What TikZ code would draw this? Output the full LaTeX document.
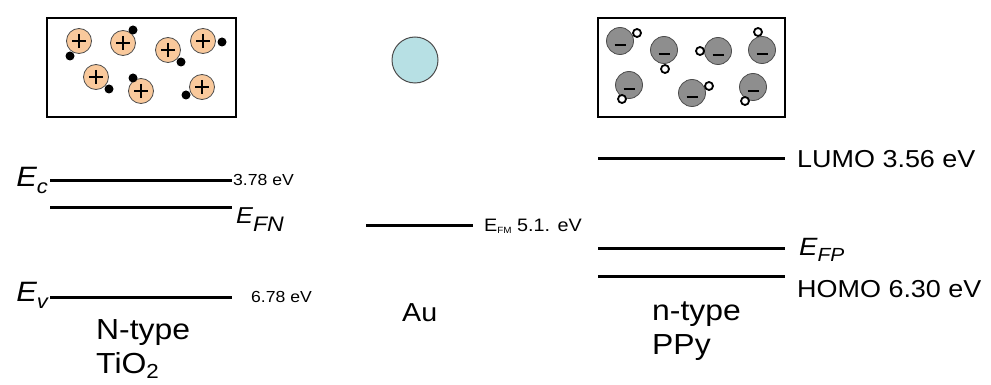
\documentclass[tikz,border=0pt]{standalone}
\usepackage{fontspec}
\setmainfont[FakeStretch=1.1]{Liberation Sans}
\usetikzlibrary{positioning}
\definecolor{holefill}{HTML}{F9C99C}
\definecolor{anionfill}{HTML}{8E8E8E}
\definecolor{goldfill}{HTML}{B7E0E4}
% italic E with a lowered subscript: size of E, size of subscript, drop, subscript
\newcommand{\Esub}[4]{{\itshape\fontsize{#1}{#1}\selectfont E\raisebox{-#3}{\fontsize{#2}{#2}\selectfont #4}}}
\tikzstyle{band} = [line width=3pt]
\tikzstyle{sample} = [draw, line width=2.8pt]
\tikzstyle{cation} = [circle, draw=black!70, line width=0.8pt, fill=holefill, minimum size=25pt, inner sep=0pt]
\tikzstyle{anion} = [circle, draw=black!70, line width=0.8pt, fill=anionfill, minimum size=27pt, inner sep=0pt]
\tikzstyle{electron} = [circle, fill=black, minimum size=9pt, inner sep=0pt]
\tikzstyle{hole} = [circle, draw, line width=1.8pt, fill=white, minimum size=8pt, inner sep=0pt]
\tikzstyle{energy} = [inner sep=0pt, font=\fontsize{16pt}{16pt}\selectfont]
\tikzstyle{material} = [inner sep=0pt, align=left, font=\fontsize{29pt}{34pt}\selectfont]
\tikzstyle{orbital} = [inner sep=0pt, font=\fontsize{24.5pt}{24.5pt}\selectfont]

\begin{document}
\begin{tikzpicture}[x=1pt, y=-1pt]
    \useasboundingbox (0, 0) rectangle (991, 385);

    % Samples.
    \draw [sample] (47, 18) rectangle (236, 117);
    \draw [sample] (598, 18) rectangle (785, 117);
    \node (au) [circle, draw=black!70, line width=1pt, fill=goldfill, minimum size=46pt, inner sep=0pt] at (415, 60) {};

    % Holes in TiO2.
    \foreach \cx/\cy/\dx/\dy [count=\n] in {79/41/70/56, 123/43/133/30, 168/50/181/62, 203/41/222/42,
                                            96/77/109/89, 141/91/133/78, 202/87/186/95} {
        \node (ion\n) [cation] at (\cx, \cy) {};
        \draw [line width=2.2pt] (\cx - 7, \cy) -- (\cx + 7, \cy);
        \draw [line width=2.2pt] (\cx, \cy - 7) -- (\cx, \cy + 7);
        \node (el\n) [electron] at (\dx, \dy) {};
    }

    % Charges in PPy.
    \foreach \cx/\cy/\dx/\dy [count=\n] in {620/41/637/33, 664/50/665/69, 718/51/700/51, 762/50/758/32,
                                            629/85/622/99, 692/93/709/86, 753/87/745/101} {
        \node (anion\n) [anion] at (\cx, \cy) {};
        \draw [line width=2.8pt] (\cx - 5.5, \cy + 4) -- (\cx + 5.5, \cy + 4);
        \node (hole\n) [hole] at (\dx, \dy) {};
    }

    % TiO2 levels.
    \coordinate (ec-l) at (50, 181);
    \coordinate (ec-r) at (232, 181);
    \coordinate (efn-l) at (50, 207);
    \coordinate (efn-r) at (232, 207);
    \coordinate (ev-l) at (50, 297);
    \coordinate (ev-r) at (232, 297);
    \draw [band] (ec-l) -- (ec-r);
    \draw [band] (efn-l) -- (efn-r);
    \draw [band] (ev-l) -- (ev-r);

    \node (ec) [anchor=base east, inner sep=0pt] at (48, 186) {\Esub{28pt}{20pt}{7pt}{c}};
    \node (ev) [anchor=base east, inner sep=0pt] at (48, 301) {\Esub{28pt}{20pt}{7pt}{v}};
    \node (efn) [anchor=base west, inner sep=0pt] at (236, 223) {\Esub{23pt}{21pt}{8pt}{FN}};
    \node (ec val) [energy, anchor=west] at (233, 180) {3.78 eV};
    \node (ev val) [energy, anchor=west] at (251, 297) {6.78 eV};
    \node (tio2) [material, anchor=north west] at (96, 319) {N-type\\TiO\textsubscript{2}};

    % Au level.
    \coordinate (efm-l) at (366, 225);
    \coordinate (efm-r) at (473, 225);
    \draw [band] (efm-l) -- (efm-r);
    \node (efm) [anchor=base west, inner sep=0pt, font=\fontsize{18pt}{18pt}\selectfont] at (484, 231)
        {E\raisebox{-2pt}{\fontsize{9pt}{9pt}\selectfont FM} 5.1. eV};
    \node (au name) [material, anchor=north west, font=\fontsize{26pt}{30pt}\selectfont] at (402, 303) {Au};

    % PPy levels.
    \coordinate (lumo-l) at (598, 159);
    \coordinate (lumo-r) at (785, 159);
    \coordinate (efp-l) at (598, 248);
    \coordinate (efp-r) at (785, 248);
    \coordinate (homo-l) at (598, 276);
    \coordinate (homo-r) at (785, 276);
    \draw [band] (lumo-l) -- (lumo-r);
    \draw [band] (efp-l) -- (efp-r);
    \draw [band] (homo-l) -- (homo-r);

    \node (lumo) [orbital, anchor=west] at (797, 159) {LUMO 3.56 eV};
    \node (efp) [anchor=base west, inner sep=0pt] at (799, 255) {\Esub{25pt}{19pt}{6pt}{FP}};
    \node (homo) [orbital, anchor=west] at (797, 289) {HOMO 6.30 eV};
    \node (ppy) [material, anchor=north west] at (652, 302) {n-type\\PPy};
\end{tikzpicture}
\end{document}
